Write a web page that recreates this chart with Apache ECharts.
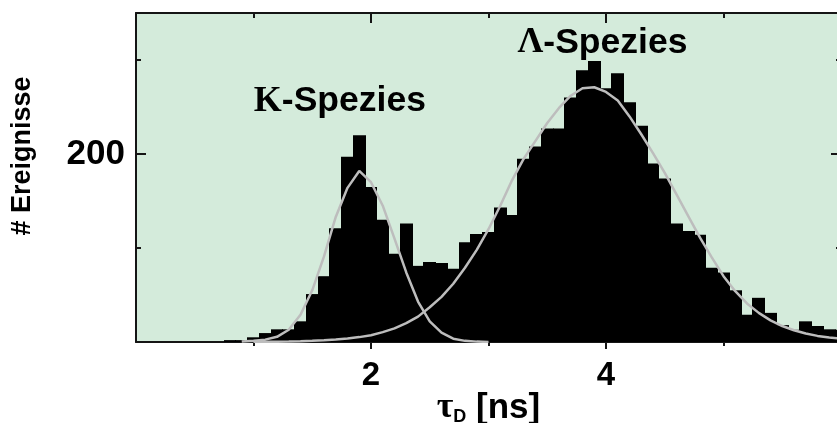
<!DOCTYPE html>
<html><head><meta charset="utf-8">
<script src="https://cdn.jsdelivr.net/npm/echarts@6/dist/echarts.min.js"></script>
<style>html,body{margin:0;padding:0;background:#fff}#c{width:837px;height:423px}</style>
</head><body><div id="c"></div>
<script>
// ---- data ----
const binCenters = [0.8,0.9,1.0,1.1,1.2,1.3,1.4,1.5,1.6,1.7,1.8,1.9,2.0,2.1,2.2,2.3,2.4,2.5,2.6,2.7,2.8,2.9,3.0,3.1,3.2,3.3,3.4,3.5,3.6,3.7,3.8,3.9,4.0,4.1,4.2,4.3,4.4,4.5,4.6,4.7,4.8,4.9,5.0,5.1,5.2,5.3,5.4,5.5,5.6,5.7,5.8,5.9,6.0];
const counts = [2,2,5,9.5,13.5,13.5,22,51,70,121,197,220,165,130,94,126,81,85,84,78,106,115,117,143,135,195,208,227,227,260,289,299,270,286,255,230,190,174,126,118,114,79,74,55,29,47,31,18,13,22,17,13.5,13];
const binWidth = 0.1;

const kappaX = [0.9,1.0,1.1,1.2,1.3,1.4,1.5,1.6,1.7,1.8,1.9,2.0,2.1,2.2,2.3,2.4,2.5,2.6,2.7,2.8,2.9,3.0];
const kappaY = [0.5,1.4,2.5,5.5,13,29,55,91,133,164,182,170,145,110,74,43,22,10,3.5,1.2,0.4,0.1];

const lambdaX = [1.0,1.1,1.2,1.3,1.4,1.5,1.6,1.7,1.8,1.9,2.0,2.1,2.2,2.3,2.4,2.5,2.6,2.7,2.8,2.9,3.0,3.1,3.2,3.3,3.4,3.5,3.6,3.7,3.8,3.9,4.0,4.1,4.2,4.3,4.4,4.5,4.6,4.7,4.8,4.9,5.0,5.1,5.2,5.3,5.4,5.5,5.6,5.7,5.8,5.9,6.0];
const lambdaY = [0.1,0.2,0.3,0.5,0.8,1.2,1.8,2.6,3.7,5.2,7.2,10.5,14.5,20,27,37,48,62,79,98,120,145,172,195,214,233,249,262,270,271,266,257,240,221,201,180,157,134,111,90,70,54,41,31,23,17,12.5,9,6.5,4.7,3.5];

const xMajorTicks = [2,4];
const xMinorTicks = [1,3,5];
const yMajorTicks = [200];
const yMinorTicks = [100,300];

const annoGreek = ['\u039A','\u039B'];
const annoRest = ['-Spezies','-Spezies'];
const annoX = [1.735, 3.97];
const annoY = [256, 318];

// ---- chart ----
const SANS = '"Liberation Sans", Arial, sans-serif';
const SERIF = '"Liberation Serif", "Times New Roman", serif';
const AX = '#151515';

function xAx(pos, ticks, len, inside, line, labels) {
  return {
    type:'value', position:pos, min:0, max:6,
    axisLine:{show:line, onZero:false, lineStyle:{color:AX, width:2}},
    axisTick:{show:true, customValues:ticks, length:len, inside:inside, lineStyle:{color:AX, width:2}},
    axisLabel:labels ? {show:true, customValues:ticks, fontFamily:SANS, fontWeight:'bold', fontSize:33, color:'#000', margin:17} : {show:false},
    splitLine:{show:false}
  };
}
function yAx(pos, ticks, len, line, labels) {
  return {
    type:'value', position:pos, min:0, max:350,
    axisLine:{show:line, onZero:false, lineStyle:{color:AX, width:2}},
    axisTick:{show:true, customValues:ticks, length:len, inside:true, lineStyle:{color:AX, width:2}},
    axisLabel:labels ? {show:true, customValues:ticks, fontFamily:SANS, fontWeight:'bold', fontSize:35, color:'#000', margin:11} : {show:false},
    splitLine:{show:false}
  };
}

const xAxes = [
  xAx('bottom', xMajorTicks, 7, false, true, true),
  xAx('bottom', xMinorTicks, 4, false, false, false),
  xAx('top', xMajorTicks, 10, true, true, false),
  xAx('top', xMinorTicks, 5, true, false, false)
];
xAxes[0].name = '{t|\u03C4}{s|D}{b| [ns]}';
xAxes[0].nameLocation = 'middle';
xAxes[0].nameGap = 42;
xAxes[0].nameMoveOverlap = false;
xAxes[0].nameTextStyle = {
  color:'#000',
  rich:{
    t:{fontFamily:SERIF, fontWeight:'bold', fontSize:36, color:'#000', lineHeight:42, verticalAlign:'bottom'},
    s:{fontFamily:SANS, fontWeight:'bold', fontSize:18, color:'#000', lineHeight:18, verticalAlign:'bottom'},
    b:{fontFamily:SANS, fontWeight:'bold', fontSize:35, color:'#000', lineHeight:42, verticalAlign:'bottom'}
  }
};

const yAxes = [
  yAx('left', yMajorTicks, 10, true, true),
  yAx('left', yMinorTicks, 5, false, false),
  yAx('right', yMajorTicks, 10, true, false),
  yAx('right', yMinorTicks, 5, false, false)
];
yAxes[0].name = '# Ereignisse';
yAxes[0].nameLocation = 'middle';
yAxes[0].nameRotate = 90;
yAxes[0].nameGap = 100;
yAxes[0].nameMoveOverlap = false;
yAxes[0].nameTextStyle = {fontFamily:SANS, fontWeight:'bold', fontSize:27, color:'#000', padding:[0,0,0,43]};

const histData = binCenters.map((x,i)=>[x, counts[i]]);
const kappaData = kappaX.map((x,i)=>[x, kappaY[i]]);
const lambdaData = lambdaX.map((x,i)=>[x, lambdaY[i]]);
const annoData = annoX.map((x,i)=>({value:[x, annoY[i]], g:annoGreek[i], r:annoRest[i]}));

const chart = echarts.init(document.getElementById('c'), null, {renderer:'canvas'});
chart.setOption({
  animation:false,
  backgroundColor:'#ffffff',
  grid:{left:136, top:13, width:705, height:329, show:true, backgroundColor:'#d4ebdb', borderWidth:0, containLabel:false, outerBoundsMode:'none'},
  xAxis:xAxes,
  yAxis:yAxes,
  series:[
    {
      type:'custom', name:'hist', xAxisIndex:0, yAxisIndex:0, data:histData, z:2, clip:true,
      renderItem:function(params, api){
        const x = api.value(0), y = api.value(1);
        const p0 = api.coord([x - binWidth/2, y]);
        const p1 = api.coord([x + binWidth/2, 0]);
        const x0 = Math.floor(p0[0]), x1 = Math.ceil(p1[0]);
        return {type:'rect', shape:{x:x0, y:p0[1], width:x1-x0, height:p1[1]-p0[1]}, style:{fill:'#000'}};
      }
    },
    {type:'line', name:'kappa', data:kappaData, symbol:'none', z:3, lineStyle:{color:'#bdbdbd', width:2.5}, silent:true},
    {type:'line', name:'lambda', data:lambdaData, symbol:'none', z:3, lineStyle:{color:'#bdbdbd', width:2.5}, silent:true},
    {
      type:'scatter', name:'anno', data:annoData, symbolSize:1, itemStyle:{color:'rgba(0,0,0,0)'}, z:5, silent:true,
      label:{
        show:true, position:'inside', opacity:1,
        formatter:function(p){ return '{g|' + p.data.g + '}{s|' + p.data.r + '}'; },
        rich:{
          g:{fontFamily:SERIF, fontWeight:'bold', fontSize:36, color:'#000'},
          s:{fontFamily:SANS, fontWeight:'bold', fontSize:35.5, color:'#000'}
        }
      }
    }
  ]
});
</script></body></html>
